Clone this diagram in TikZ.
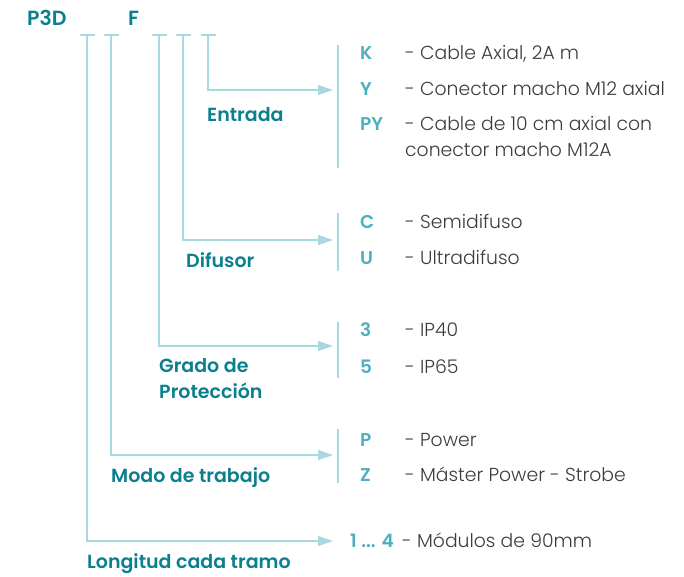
\documentclass[tikz,border=0pt]{standalone}
\usepackage{fontspec}
\setmainfont{Poppins}[UprightFont=* Light, BoldFont=* SemiBold]
\usetikzlibrary{arrows.meta, positioning}
\definecolor{tealdark}{HTML}{0A7F8E}
\definecolor{teallight}{HTML}{4DAFBF}
\definecolor{tealline}{HTML}{A8D8E0}
\definecolor{textgrey}{HTML}{3C3C3C}

\begin{document}
\begin{tikzpicture}
      [
        x=1pt, y=-1pt,
        code/.style={anchor=base west, inner sep=0pt, text=teallight,
          font=\bfseries\fontsize{18.5}{26}\selectfont},
        desc/.style={anchor=base west, inner sep=0pt, text=textgrey,
          font=\fontsize{18.8}{26}\selectfont, align=left},
        group/.style={anchor=base west, inner sep=0pt, text=tealdark,
          font=\bfseries\fontsize{19}{26}\selectfont, align=left},
        head/.style={group, font=\bfseries\fontsize{20.5}{26}\selectfont},
        link/.style={draw=tealline, line width=1.2pt},
        pointer/.style={link, -{Triangle[length=15pt, width=10pt]}}
      ]
      \useasboundingbox (0,0) rectangle (684,576);
      % header
      \node [head] (p3d) at (27,25) {P3D};
      \node [head] (f) at (128,25) {F};
      % ticks under the code
      \foreach \name/\x in {lon/87, mod/111, gra/159, dif/183, ent/208} {
          \coordinate (\name) at (\x,35);
          \draw [link] ([xshift=-7.5pt]\name) -- ([xshift=7.5pt]\name);
      }
      % branches
      \foreach \name/\y in {ent/90, dif/240, gra/346, mod/455, lon/541} {
          \coordinate (\name end) at (333,\y);
          \draw [pointer] (\name) |- (\name end);
      }
      % brackets
      \foreach \n/\t/\b in {ent/45/168, dif/213/271, gra/322/378, mod/429/483} {
          \coordinate (\n top) at (338,\t);
          \coordinate (\n bot) at (338,\b);
          \draw [link] (\n top) -- (\n bot);
      }
      % group labels (base of the last line)
      \node [group] (entl) at (207,121) {Entrada};
      \node [group] (difl) at (186,267) {Difusor};
      \node [group] (gral) at (159,398) {Grado de\\Protección};
      \node [group] (modl) at (111,482) {Modo de trabajo};
      \node [group] (lonl) at (87,568) {Longitud cada tramo};
      % options
      \foreach \c/\y/\dy/\txt in {K/59/59/{- Cable Axial, 2A m},
                              Y/95/95/{- Conector macho M12 axial},
                              PY/130/156/{- Cable de 10 cm axial con\\conector macho M12A},
                              C/228/228/{- Semidifuso},
                              U/264/264/{- Ultradifuso},
                              3/336/336/{- IP40},
                              5/373/373/{- IP65},
                              P/446/446/{- Power},
                              Z/481/481/{- Máster Power - Strobe}} {
          \node [code] (c\c) at (360,\y) {\c};
          \node [desc] (d\c) at (405,\dy) {\txt};
      }
      \node [code] (cL) at (350,547) {1 ... 4};
      \node [desc] (dL) at (402,547) {- Módulos de 90mm};
    \end{tikzpicture}
\end{document}
